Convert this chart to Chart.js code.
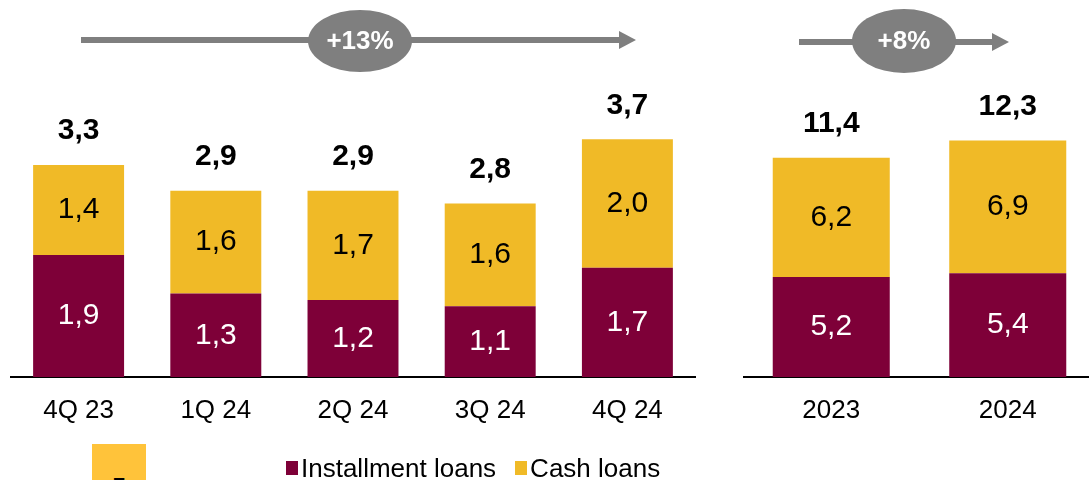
<!DOCTYPE html>
<html lang="en">
<head>
<meta charset="UTF-8">
<title>Installment and cash loans</title>
<script src="https://cdn.jsdelivr.net/npm/chart.js@4"></script>
<style>
  body { margin: 0; width: 1089px; height: 480px; overflow: hidden; position: relative; background: #fff;
         font-family: "Liberation Sans", Arial, sans-serif; }
  .panel { position: absolute; top: 0; height: 480px; }
  #quarterPanel { left: 10px; width: 686px; }
  #yearPanel { left: 743px; width: 353px; }
  .legend { position: absolute; top: 453px; left: 286px; display: flex; align-items: center;
            font-size: 26px; color: #000; white-space: nowrap; line-height: 30px; }
  .legend span.box { display: inline-block; width: 12px; height: 14px; margin-right: 3px; }
  .legend .item { display: flex; align-items: center; margin-right: 19px; }
  .note { position: absolute; left: 92px; top: 444px; width: 54px; height: 40px; background: #FFC33A;
          overflow: hidden; font-size: 22px; font-weight: bold; text-align: center; line-height: 22px; }
  .note div { margin-top: 31px; }
</style>
</head>
<body>
<div class="panel" id="quarterPanel"><canvas id="quarterChart"></canvas></div>
<div class="panel" id="yearPanel"><canvas id="yearChart"></canvas></div>
<div class="note"><div>7</div></div>
<div class="legend">
  <div class="item"><span class="box" style="background:#7E0038"></span>Installment loans</div>
  <div class="item"><span class="box" style="background:#F0BA27"></span>Cash loans</div>
</div>

<script>
const quarterLabels = ['4Q 23', '1Q 24', '2Q 24', '3Q 24', '4Q 24'];
const quarterInstallment = [1.9, 1.3, 1.2, 1.1, 1.7];
const quarterCash = [1.4, 1.6, 1.7, 1.6, 2.0];
const quarterTotals = [3.3, 2.9, 2.9, 2.8, 3.7];
const quarterGrowth = '+13%';

const yearLabels = ['2023', '2024'];
const yearInstallment = [5.2, 5.4];
const yearCash = [6.2, 6.9];
const yearTotals = [11.4, 12.3];
const yearGrowth = '+8%';

const MAROON = '#7E0038';
const YELLOW = '#F0BA27';
const GREY = '#7F7F7F';
const FONT = '"Liberation Sans", Arial, sans-serif';

const fmt = v => v.toFixed(1).replace('.', ',');

// segment values inside the bars, totals above them
const barLabels = {
  id: 'barLabels',
  afterDatasetsDraw(chart, args, opts) {
    const ctx = chart.ctx;
    ctx.save();
    ctx.textAlign = 'center';
    ctx.textBaseline = 'middle';
    ctx.font = '30px ' + FONT;
    chart.data.datasets.forEach((ds, di) => {
      ctx.fillStyle = ds.labelColor;
      chart.getDatasetMeta(di).data.forEach((bar, i) => {
        ctx.fillText(fmt(ds.data[i]), bar.x, (bar.y + bar.base) / 2);
      });
    });
    const topMeta = chart.getDatasetMeta(chart.data.datasets.length - 1);
    ctx.font = 'bold 30px ' + FONT;
    ctx.fillStyle = '#000';
    topMeta.data.forEach((bar, i) => {
      ctx.fillText(fmt(opts.totals[i]), bar.x, bar.y - 34);
    });
    ctx.restore();
  }
};

// grey growth arrow with the percentage in an ellipse
const growthArrow = {
  id: 'growthArrow',
  afterDraw(chart, args, o) {
    const ctx = chart.ctx;
    ctx.save();
    ctx.strokeStyle = GREY;
    ctx.fillStyle = GREY;
    ctx.lineWidth = 6;
    ctx.beginPath();
    ctx.moveTo(o.x1, o.y);
    ctx.lineTo(o.x2 - 16, o.y);
    ctx.stroke();
    ctx.beginPath();
    ctx.moveTo(o.x2 - 17, o.y - 9);
    ctx.lineTo(o.x2, o.y);
    ctx.lineTo(o.x2 - 17, o.y + 9);
    ctx.closePath();
    ctx.fill();
    ctx.beginPath();
    ctx.ellipse(o.cx, o.cy, o.rx, o.ry, 0, 0, Math.PI * 2);
    ctx.fill();
    ctx.fillStyle = '#fff';
    ctx.font = 'bold 26px ' + FONT;
    ctx.textAlign = 'center';
    ctx.textBaseline = 'middle';
    ctx.fillText(o.text, o.cx, o.cy + 1);
    ctx.restore();
  }
};

function makeChart(id, labels, installment, cash, totals, yMax, arrow) {
  return new Chart(document.getElementById(id), {
    type: 'bar',
    data: {
      labels: labels,
      datasets: [
        { label: 'Installment loans', data: installment, backgroundColor: MAROON, labelColor: '#fff',
          barPercentage: 0.663, categoryPercentage: 1 },
        { label: 'Cash loans', data: cash, backgroundColor: YELLOW, labelColor: '#000',
          barPercentage: 0.663, categoryPercentage: 1 }
      ]
    },
    options: {
      responsive: true,
      maintainAspectRatio: false,
      animation: false,
      layout: { padding: 0 },
      plugins: {
        legend: { display: false },
        tooltip: { enabled: false },
        barLabels: { totals: totals },
        growthArrow: arrow
      },
      scales: {
        x: {
          stacked: true,
          grid: { display: false, drawTicks: false },
          border: { color: '#000', width: 2 },
          ticks: { color: '#000', font: { size: 26, family: FONT }, padding: 18 },
          afterFit(scale) { scale.height = 103; }
        },
        y: { stacked: true, display: false, min: 0, max: yMax }
      }
    },
    plugins: [barLabels, growthArrow]
  });
}

makeChart('quarterChart', quarterLabels, quarterInstallment, quarterCash, quarterTotals, 5.87,
  { x1: 71, x2: 626, y: 40, cx: 350, cy: 41, rx: 52, ry: 31, text: quarterGrowth });
makeChart('yearChart', yearLabels, yearInstallment, yearCash, yearTotals, 19.6,
  { x1: 56, x2: 266, y: 42, cx: 161, cy: 41, rx: 52, ry: 32, text: yearGrowth });
</script>
</body>
</html>
